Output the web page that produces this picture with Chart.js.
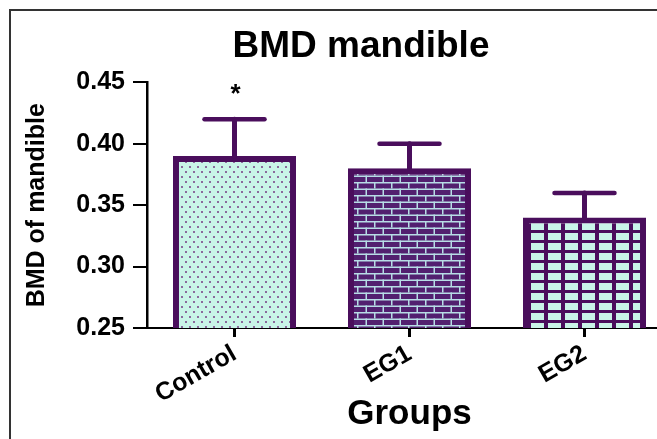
<!DOCTYPE html>
<html><head><meta charset="utf-8">
<script src="https://cdn.jsdelivr.net/npm/chart.js@4.4.1/dist/chart.umd.min.js"></script>
<style>
html,body{margin:0;padding:0;background:#fff;overflow:hidden;width:657px;height:439px;}
#frame{position:absolute;left:9px;top:9px;width:800px;height:600px;border-left:2px solid #333;border-top:2px solid #333;}
#wrap{position:absolute;left:0;top:0;width:722px;height:439px;}
</style></head><body>
<div id="frame"></div>
<div id="wrap"><canvas id="c" width="722" height="439"></canvas></div>
<script>
// ---- data ----
const categories = ['Control', 'EG1', 'EG2'];
const meanValues = [0.39, 0.38, 0.34];
const sdValues = [0.03, 0.02, 0.02];
const significance = ['*', '', ''];
const yTickValues = [0.25, 0.30, 0.35, 0.40, 0.45];

// ---- style ----
const PURPLE = '#4a0e5c';
const MINT = '#c9f5e8';
const LS = "'Liberation Sans', Arial, sans-serif";

const canvas = document.getElementById('c');
const ctx = canvas.getContext('2d');

function makePattern(w, h, draw) {
  const c = document.createElement('canvas');
  c.width = w; c.height = h;
  const g = c.getContext('2d');
  draw(g);
  return ctx.createPattern(c, 'repeat');
}
const dotPat = makePattern(8, 10, g => {
  g.fillStyle = MINT; g.fillRect(0, 0, 8, 10);
  g.fillStyle = '#8a6a9c';
  g.fillRect(1, 1, 2, 2); g.fillRect(5, 6, 2, 2);
});
const brickPat = makePattern(17, 13, g => {
  g.fillStyle = '#52206f'; g.fillRect(0, 0, 17, 13);
  g.fillStyle = '#b7dde6';
  g.fillRect(0, 0, 17, 1.5); g.fillRect(0, 6.5, 17, 1.5);
  g.fillRect(0, 0, 1.5, 6.5); g.fillRect(8.5, 6.5, 1.5, 6.5);
});
const gridPat = makePattern(17, 10, g => {
  g.fillStyle = MINT; g.fillRect(0, 0, 17, 10);
  g.fillStyle = PURPLE;
  g.fillRect(0, 0, 4, 10); g.fillRect(0, 0, 17, 3);
});

const errPlugin = {
  id: 'errbars',
  afterDatasetsDraw(chart) {
    const c = chart.ctx;
    const meta = chart.getDatasetMeta(0);
    const ys = chart.scales.y;
    c.save();
    c.strokeStyle = PURPLE;
    c.lineCap = 'round';
    meta.data.forEach((bar, i) => {
      const x = bar.x;
      const top = ys.getPixelForValue(meanValues[i] + sdValues[i]);
      c.lineWidth = 5;
      c.beginPath(); c.moveTo(x, bar.y); c.lineTo(x, top); c.stroke();
      c.lineWidth = 4.5;
      c.beginPath(); c.moveTo(x - 30, top); c.lineTo(x + 30, top); c.stroke();
      if (significance[i]) {
        c.fillStyle = '#000';
        c.font = "bold 26px " + LS;
        c.textAlign = 'center';
        c.textBaseline = 'alphabetic';
        c.fillText(significance[i], x + 1, top - 17);
      }
    });
    c.restore();
  }
};

new Chart(ctx, {
  type: 'bar',
  data: {
    labels: categories,
    datasets: [{
      data: meanValues,
      yAxisID: 'y',
      backgroundColor: [dotPat, brickPat, gridPat],
      borderColor: PURPLE,
      borderWidth: 6,
      borderSkipped: false,
      barPercentage: 0.703,
      categoryPercentage: 1.0
    }]
  },
  options: {
    responsive: false,
    animation: false,
    layout: { padding: 0 },
    plugins: {
      legend: { display: false },
      tooltip: { enabled: false },
      title: {
        display: true, text: 'BMD mandible', color: '#000',
        font: { family: LS, size: 37, weight: 'bold' },
        padding: { top: 25, bottom: 13 }
      }
    },
    scales: {
      x: {
        offset: true,
        grid: { display: true, drawOnChartArea: false, drawTicks: true, tickLength: 9, offset: false, color: '#000', lineWidth: 3 },
        border: { display: true, color: '#000', width: 2 },
        ticks: { color: '#000', font: { family: LS, size: 25, weight: 'bold' }, minRotation: 30, maxRotation: 30, padding: 2, autoSkip: false },
        title: { display: true, text: 'Groups', color: '#000', font: { family: LS, size: 35, weight: 'bold' }, padding: { top: 0, bottom: 4 } },
        afterFit(s) { s.height = 111; }
      },
      y: {
        min: 0.25, max: 0.45,
        afterBuildTicks(s) { s.ticks = yTickValues.map(v => ({ value: v })); },
        ticks: { callback: v => Number(v).toFixed(2), color: '#000', font: { family: LS, size: 25, weight: 'bold' }, padding: 8 },
        grid: { drawOnChartArea: false, drawTicks: true, tickLength: 14, color: '#000', lineWidth: 2 },
        border: { display: true, color: '#000', width: 2.5 },
        title: { display: true, text: 'BMD of mandible', color: '#000', font: { family: LS, size: 25, weight: 'bold' }, padding: { top: 22, bottom: 0 } },
        afterFit(s) { s.width = 147; }
      },
      yR: {
        position: 'right', display: true,
        grid: { display: false }, border: { display: false },
        ticks: { display: false }, title: { display: false },
        afterFit(s) { s.width = 50; }
      }
    }
  },
  plugins: [errPlugin]
});
</script>
</body></html>
